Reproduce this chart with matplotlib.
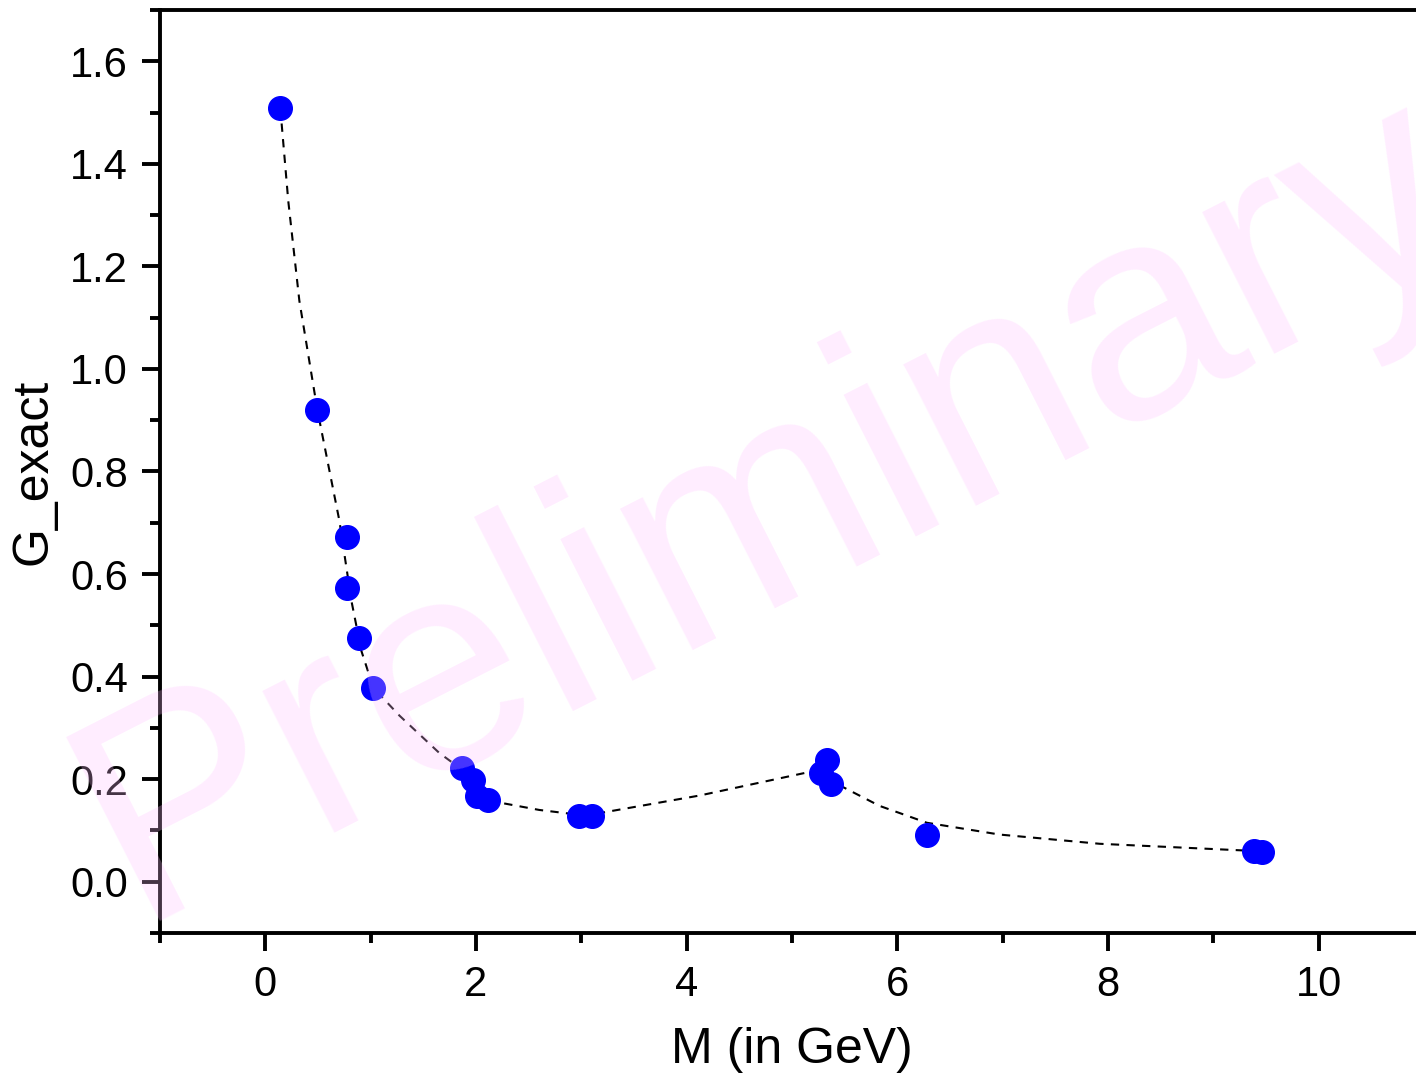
import matplotlib.pyplot as plt
from matplotlib.ticker import MultipleLocator

plt.rcParams['font.family'] = ['Liberation Sans', 'DejaVu Sans']

# meson masses (GeV) and G_exact values
mass = [0.14, 0.494, 0.78, 0.775, 0.893, 1.02, 1.87, 1.97, 2.01, 2.11,
        2.98, 3.10, 5.28, 5.33, 5.37, 6.28, 9.39, 9.46]
g_exact = [1.509, 0.920, 0.672, 0.573, 0.476, 0.378, 0.222, 0.199, 0.168, 0.160,
           0.129, 0.129, 0.212, 0.238, 0.191, 0.092, 0.060, 0.058]

# dashed trend curve
trend_m = [0.142, 0.218, 0.323, 0.494, 0.703, 0.817, 0.912, 1.026, 1.273, 1.652,
           1.871, 2.127, 2.60, 3.04, 4.12, 5.21, 5.48, 5.83, 6.28, 6.97, 7.92, 9.39]
trend_g = [1.509, 1.327, 1.133, 0.920, 0.704, 0.548, 0.450, 0.378, 0.324, 0.251,
           0.218, 0.158, 0.140, 0.129, 0.168, 0.216, 0.185, 0.148, 0.115, 0.092, 0.074, 0.060]

fig = plt.figure(figsize=(14.16, 10.85), dpi=100)
ax = fig.add_axes([160/1416, 152/1085, 1264/1416, 923/1085])

ax.plot(trend_m, trend_g, '--', color='black', lw=1.5, dashes=(4, 3.5), zorder=2)
ax.plot(mass, g_exact, 'o', color='#0000ff', ms=17, mec='#0000ff', zorder=3)

ax.set_xlim(-1, 11)
ax.set_ylim(-0.1, 1.7)
ax.xaxis.set_major_locator(MultipleLocator(2))
ax.xaxis.set_minor_locator(MultipleLocator(1))
ax.yaxis.set_major_locator(MultipleLocator(0.2))
ax.yaxis.set_minor_locator(MultipleLocator(0.1))
ax.yaxis.set_major_formatter(plt.FuncFormatter(lambda v, p: f'{v:.1f}'))

for s in ax.spines.values():
    s.set_linewidth(2.8)
ax.tick_params(which='major', direction='out', length=13, width=2.8, labelsize=30, pad=10)
ax.tick_params(which='minor', direction='out', length=7, width=2.8)
ax.tick_params(top=False, right=False)

ax.set_xlabel('M (in GeV)', fontsize=36, labelpad=16)
ax.set_ylabel('G_exact', fontsize=36, labelpad=10)

fig.text(771/1416, 1 - 510/1085, 'Preliminary', fontsize=217, rotation=27,
         ha='center', va='center', color=(1, 0.75, 1), alpha=0.28, zorder=10)

fig.savefig('out.png', dpi=100)
